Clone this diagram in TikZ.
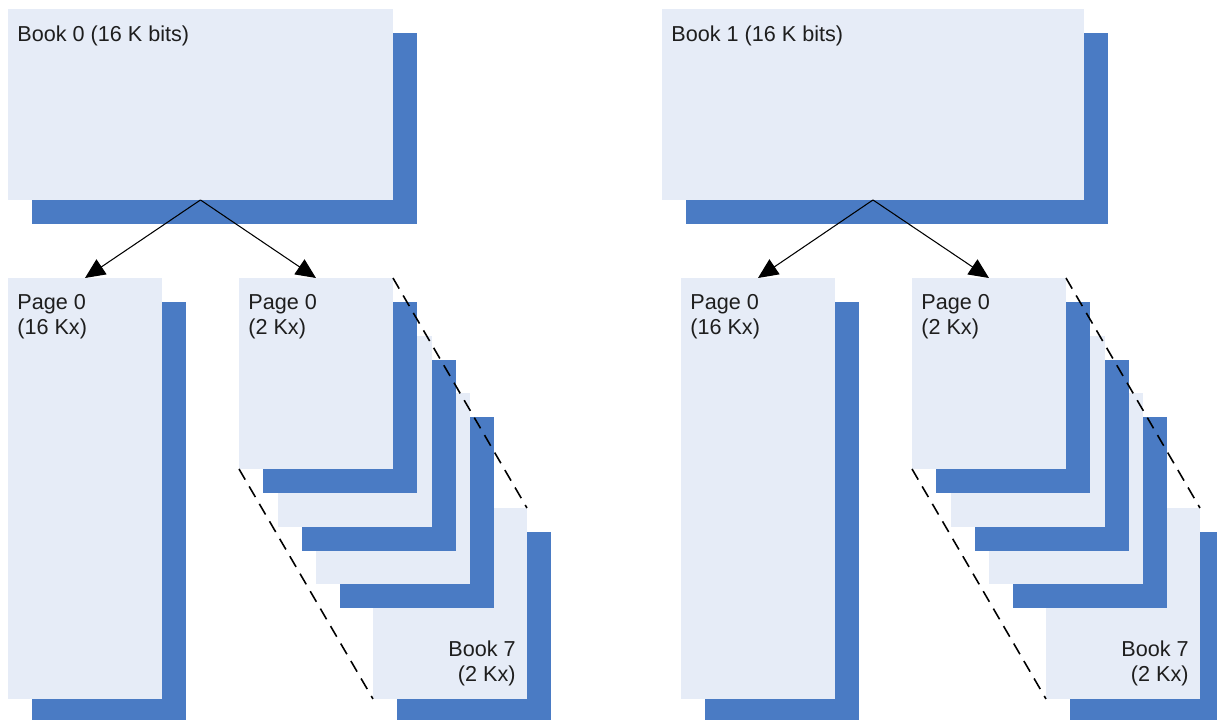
\documentclass[tikz,border=0pt]{standalone}
\usepackage{fontspec}
\setmainfont{Liberation Sans}
\usetikzlibrary{arrows.meta,shadows}
\definecolor{pagefill}{HTML}{E6ECF7}
\definecolor{pageshade}{HTML}{4A7BC4}
\definecolor{textgray}{HTML}{1E1E1E}

\begin{document}
\begin{tikzpicture}[x=0.02cm,y=-0.02cm]
    \tikzstyle{sheet} = [rectangle,anchor=north west,inner sep=0pt,outer sep=0pt,fill=pagefill,drop shadow={shadow xshift=0.48cm,shadow yshift=-0.48cm,fill=pageshade,opacity=1}]
    \tikzstyle{book} = [sheet,minimum width=7.7cm,minimum height=3.82cm]
    \tikzstyle{widebook} = [sheet,minimum width=8.44cm,minimum height=3.82cm]
    \tikzstyle{tallpage} = [sheet,minimum width=3.08cm,minimum height=8.42cm]
    \tikzstyle{smallpage} = [sheet,minimum width=3.08cm,minimum height=3.82cm]
    \tikzstyle{lbl} = [inner sep=0pt,text=textgray,font=\fontsize{12.3}{14.3}\selectfont]
    \tikzstyle{arr} = [-{Triangle[length=0.4cm,width=0.36cm]},line width=0.6pt,black]
    \tikzstyle{guide} = [dash pattern=on 7pt off 4.5pt,line width=0.9pt,black]
    \useasboundingbox (0,0) rectangle (1217,720);

    \node (book0)[book] at (8,9) {};
    \node (big0)[tallpage] at (8,278) {};
    \node (stackA7)[smallpage] at (373,508) {};
    \node (stackA2)[smallpage] at (316,393) {};
    \node (stackA1)[smallpage] at (278,336) {};
    \node (stackA0)[smallpage] at (239,278) {};
    \node (book0txt)[lbl,anchor=north west] at ([shift={(9,16)}]book0.north west) {Book 0 (16 K bits)};
    \node (big0txt)[lbl,anchor=north west,align=left] at ([shift={(9,16)}]big0.north west) {Page 0\\(16 Kx)};
    \node (stackA0txt)[lbl,anchor=north west,align=left] at ([shift={(9,16)}]stackA0.north west) {Page 0\\(2 Kx)};
    \node (stackA7txt)[lbl,anchor=south east,align=right] at ([shift={(-11,-13)}]stackA7.south east) {Book 7\\(2 Kx)};
    \draw [arr] (book0.south) -- (big0.north);
    \draw [arr] (book0.south) -- (stackA0.north);
    \draw [guide] (stackA0.north east) -- (stackA7.north east);
    \draw [guide] (stackA0.south west) -- (stackA7.south west);

    \node (book1)[widebook] at (662,9) {};
    \node (big1)[tallpage] at (681,278) {};
    \node (stackB7)[smallpage] at (1046,508) {};
    \node (stackB2)[smallpage] at (989,393) {};
    \node (stackB1)[smallpage] at (951,336) {};
    \node (stackB0)[smallpage] at (912,278) {};
    \node (book1txt)[lbl,anchor=north west] at ([shift={(9,16)}]book1.north west) {Book 1 (16 K bits)};
    \node (big1txt)[lbl,anchor=north west,align=left] at ([shift={(9,16)}]big1.north west) {Page 0\\(16 Kx)};
    \node (stackB0txt)[lbl,anchor=north west,align=left] at ([shift={(9,16)}]stackB0.north west) {Page 0\\(2 Kx)};
    \node (stackB7txt)[lbl,anchor=south east,align=right] at ([shift={(-11,-13)}]stackB7.south east) {Book 7\\(2 Kx)};
    \draw [arr] (book1.south) -- (big1.north);
    \draw [arr] (book1.south) -- (stackB0.north);
    \draw [guide] (stackB0.north east) -- (stackB7.north east);
    \draw [guide] (stackB0.south west) -- (stackB7.south west);
\end{tikzpicture}
\end{document}
